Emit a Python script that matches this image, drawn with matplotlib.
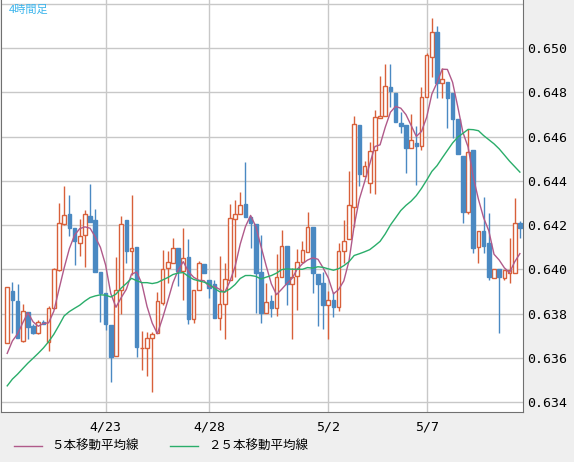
import numpy as np
import pandas as pd
import matplotlib.pyplot as plt

plt.rcParams['font.family'] = ['Noto Sans CJK JP', 'DejaVu Sans']

# 4-hour candles (prices in thousandths, i.e. 639.20 -> 0.63920)
opens = [636.67, 639.02, 638.56, 636.76, 638.07, 637.43, 637.12, 637.62, 636.71, 638.25,
         639.97, 642.04, 642.50, 641.86, 641.19, 641.55, 642.41, 642.23, 639.88, 638.93,
         637.48, 636.08, 639.06, 642.23, 640.82, 641.01, 636.44, 636.44, 636.89, 637.12,
         638.47, 640.06, 640.28, 640.96, 639.92, 640.55, 637.75, 639.06, 640.24, 639.51,
         639.33, 637.80, 638.43, 639.51, 642.27, 642.50, 642.95, 642.36, 642.04, 639.88,
         638.02, 638.56, 638.25, 639.65, 641.05, 639.33, 639.69, 640.33, 640.78, 641.91,
         639.78, 639.38, 638.38, 638.61, 638.29, 640.82, 641.37, 642.81, 646.52, 644.21,
         643.90, 645.39, 646.84, 646.93, 648.24, 647.97, 646.61, 646.52, 645.48, 645.71,
         645.57, 647.79, 649.59, 650.72, 648.42, 648.46, 647.97, 646.79, 645.12, 642.59,
         645.39, 641.01, 641.73, 641.19, 639.60, 640.01, 639.60, 639.83, 639.83, 642.09]
highs = [639.20, 639.42, 639.33, 638.43, 638.07, 637.52, 637.70, 637.70, 638.34, 640.06,
         642.99, 643.76, 643.36, 641.86, 642.27, 642.68, 643.85, 642.72, 639.88, 638.93,
         637.48, 640.55, 642.41, 642.23, 643.36, 641.01, 637.21, 637.16, 637.16, 638.97,
         640.87, 640.82, 641.41, 640.96, 641.86, 641.37, 639.06, 640.37, 640.24, 639.51,
         639.51, 640.60, 640.28, 642.95, 643.13, 643.49, 644.85, 642.36, 642.04, 641.55,
         639.38, 638.84, 640.69, 641.77, 641.05, 640.06, 640.91, 641.28, 642.59, 641.91,
         639.78, 639.88, 639.02, 638.97, 641.19, 642.23, 644.44, 646.93, 646.52, 644.89,
         645.75, 647.20, 648.73, 649.28, 649.28, 647.97, 647.11, 646.52, 647.02, 646.47,
         648.24, 649.77, 651.36, 650.99, 649.10, 648.46, 647.97, 646.79, 645.12, 646.34,
         645.39, 641.73, 643.27, 642.54, 640.01, 640.01, 639.97, 641.41, 643.22, 642.18]
lows = [636.67, 637.12, 636.89, 636.71, 636.85, 637.07, 637.07, 637.52, 636.30, 638.20,
        639.92, 642.00, 641.50, 640.19, 640.60, 640.10, 642.14, 639.88, 637.62, 637.25,
        634.90, 636.08, 637.98, 640.28, 639.74, 636.03, 635.45, 635.17, 634.45, 637.12,
        638.38, 639.38, 640.28, 639.24, 638.61, 637.52, 637.57, 639.06, 639.83, 638.70,
        637.80, 637.25, 636.85, 639.51, 639.65, 642.50, 642.36, 640.96, 638.02, 637.57,
        638.02, 637.84, 637.89, 639.65, 638.38, 636.85, 638.16, 640.33, 640.78, 638.93,
        637.43, 637.30, 636.85, 637.84, 638.11, 640.28, 641.37, 641.91, 643.76, 644.21,
        643.45, 643.40, 646.84, 646.93, 647.33, 646.66, 646.16, 644.35, 645.48, 643.81,
        645.39, 647.79, 648.69, 647.74, 647.74, 646.38, 645.93, 645.21, 642.09, 642.50,
        640.73, 640.28, 640.73, 639.51, 639.60, 637.12, 639.51, 639.38, 639.83, 641.41]
closes = [639.20, 638.61, 636.89, 638.11, 637.39, 637.12, 637.62, 637.52, 638.25, 640.01,
          642.09, 642.45, 641.86, 641.28, 641.50, 642.50, 642.14, 639.88, 638.93, 637.52,
          636.03, 639.06, 642.04, 640.82, 640.96, 636.49, 636.44, 636.89, 637.07, 638.56,
          640.01, 640.33, 640.96, 639.92, 640.51, 637.75, 639.06, 640.28, 639.83, 639.15,
          637.80, 638.43, 639.56, 642.32, 642.50, 642.90, 642.36, 642.09, 639.83, 638.02,
          638.52, 638.25, 639.65, 641.05, 639.33, 639.65, 640.33, 640.87, 641.91, 639.83,
          639.33, 638.38, 638.61, 638.29, 640.82, 641.28, 642.90, 646.56, 644.30, 644.67,
          645.34, 646.88, 646.93, 648.28, 648.06, 646.66, 646.47, 645.48, 645.84, 645.57,
          647.79, 649.68, 650.72, 648.42, 648.60, 647.74, 646.79, 645.21, 642.59, 645.30,
          640.96, 641.73, 641.05, 639.65, 640.01, 639.65, 639.97, 639.97, 642.09, 641.86]
# closes before the visible window (only feed the moving averages)
prior_closes = [631.0, 631.3, 631.8, 631.2, 631.6, 632.0, 631.5, 631.2, 631.7, 631.9,
                631.8, 637.0, 637.6, 638.0, 637.8, 638.2, 638.0, 637.7, 637.9, 638.1,
                635.8, 635.3, 635.6, 635.1]

date_pos = [19, 39, 62, 81]
date_labels = ['4/23', '4/28', '5/2', '5/7']
y_ticks = [0.634, 0.636, 0.638, 0.640, 0.642, 0.644, 0.646, 0.648, 0.650]

df = pd.DataFrame({'o': opens, 'h': highs, 'l': lows, 'c': closes}) / 1000
allc = pd.Series(prior_closes + closes) / 1000
n_prior = len(prior_closes)
ma5 = allc.rolling(5).mean().iloc[n_prior:].values
ma25 = allc.rolling(25).mean().iloc[n_prior:].values
x = np.arange(len(df))

UP = '#d8603a'
DOWN = '#4a89c2'

fig = plt.figure(figsize=(5.74, 4.62), dpi=100, facecolor='#efefef')
ax = fig.add_axes([1 / 574, 50 / 462, 522 / 574, 412 / 462])
ax.set_facecolor('white')

up = df['c'] >= df['o']
colors = np.where(up, UP, DOWN)
ax.vlines(x, df['l'], df['h'], colors=colors, linewidth=1, zorder=2)
bottom = np.minimum(df['o'], df['c'])
height = np.maximum(np.abs(df['c'] - df['o']), 0.00002)
ax.bar(x[up], height[up], bottom=bottom[up], width=0.7, facecolor='white',
       edgecolor=UP, linewidth=1, zorder=3)
ax.bar(x[~up], height[~up], bottom=bottom[~up], width=0.7, facecolor=DOWN,
       edgecolor=DOWN, linewidth=1, zorder=3)

ax.plot(x, ma5, color='#b05a8a', linewidth=1, zorder=4)
ax.plot(x, ma25, color='#2aad6a', linewidth=1, zorder=4)

ax.set_xlim(-1.2, 99.6)
ax.set_ylim(0.63355, 0.65217)
ax.set_xticks(date_pos)
ax.set_xticklabels(date_labels)
ax.set_yticks(y_ticks + [0.652])
ax.set_yticklabels(['%.3f' % v for v in y_ticks] + [''])
ax.yaxis.tick_right()
ax.tick_params(length=0, labelsize=9.5, pad=3)
ax.tick_params(axis='x', pad=6)
for lab in ax.get_xticklabels() + ax.get_yticklabels():
    lab.set_family('DejaVu Sans Mono')
ax.grid(True, color='#c8c8c8', linewidth=1)
ax.set_axisbelow(True)
for s in ax.spines.values():
    s.set_color('#707070')
ax.spines['top'].set_visible(False)

ax.text(0.015, 0.988, '4時間足', transform=ax.transAxes, color='#3ab4ec',
        fontsize=8, va='top', ha='left')

l1, = ax.plot([], [], color='#b05a8a', linewidth=1, label='５本移動平均線')
l2, = ax.plot([], [], color='#2aad6a', linewidth=1, label='２５本移動平均線')
fig.legend(handles=[l1, l2], loc='lower left', bbox_to_anchor=(0.005, -0.005), ncol=2,
           frameon=False, fontsize=9, handlelength=2.2, columnspacing=2.5)

fig.savefig('out.png', dpi=100, facecolor=fig.get_facecolor())
